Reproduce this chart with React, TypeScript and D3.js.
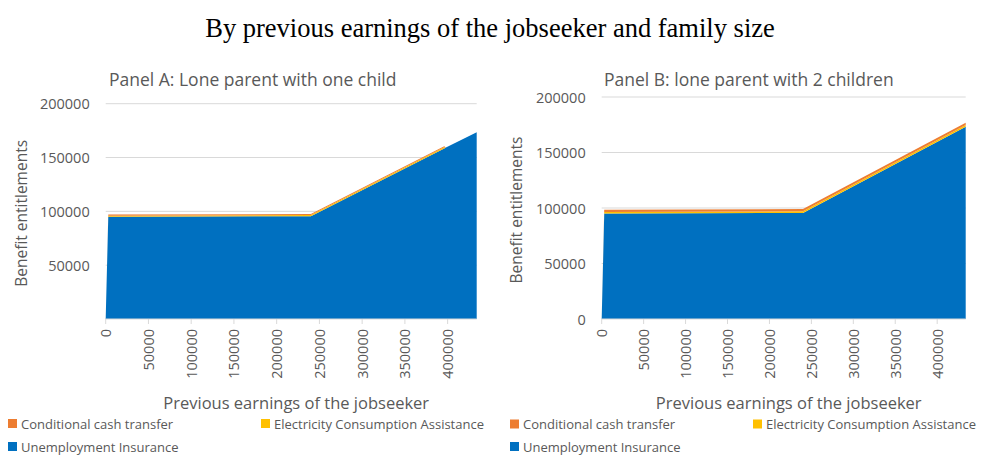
import React from "react";
import * as d3 from "d3";

const seriesNames = ["Unemployment Insurance", "Electricity Consumption Assistance", "Conditional cash transfer"];
const seriesColors = ["#0070C0", "#FFC000", "#ED7D31"];

const earningsA = [0, 3000, 240000, 396000, 398000, 434000];
const uiA = [0, 95000, 95500, 158500, 159200, 173500];
const ecaA = [0, 1000, 1000, 1000, 0, 0];
const cctA = [0, 1000, 1000, 1000, 0, 0];

const earningsB = [0, 3000, 240000, 434000];
const uiB = [0, 95000, 95500, 173300];
const ecaB = [1000, 1500, 1500, 1500];
const cctB = [0, 2000, 2000, 2000];

const xTicks = [0, 50000, 100000, 150000, 200000, 250000, 300000, 350000, 400000];
const yTicksA = [50000, 100000, 150000, 200000];
const yTicksB = [0, 50000, 100000, 150000, 200000];

const FONT = "'Open Sans', 'Noto Sans', sans-serif";
const GRAY = "#595959";

type PanelProps = {
  title: string;
  earnings: number[];
  ui: number[];
  eca: number[];
  cct: number[];
  yTicks: number[];
  left: number;
  right: number;
  top: number;
  bottom: number;
  ox: number;
};

function Panel(p: PanelProps) {
  const x = d3.scaleLinear().domain([0, 434000]).range([p.left, p.right]);
  const y = d3.scaleLinear().domain([0, 200000]).range([p.bottom, p.top]);
  const rows = p.earnings.map((e, i) => ({ e, ui: p.ui[i], eca: p.eca[i], cct: p.cct[i] }));
  const stack = d3.stack<any>().keys(["ui", "eca", "cct"])(rows);
  const area = d3
    .area<any>()
    .x((d) => x(d.data.e))
    .y0((d) => y(d[0]))
    .y1((d) => y(d[1]));
  const gridTicks = [50000, 100000, 150000, 200000];
  return (
    <g>
      <text x={p.ox + 109} y={79} dominantBaseline="central" fontFamily={FONT} fontSize={17.5} fill={GRAY}>
        {p.title}
      </text>
      {gridTicks.map((t) => (
        <line key={t} x1={p.left} x2={p.right} y1={y(t)} y2={y(t)} stroke="#d9d9d9" strokeWidth={1} />
      ))}
      {stack.map((s, i) => (
        <path key={i} d={area(s) || ""} fill={seriesColors[i]} />
      ))}
      <line x1={p.left} x2={p.right} y1={p.bottom} y2={p.bottom} stroke="#d9d9d9" strokeWidth={1} />
      {xTicks.map((t) => (
        <g key={t}>
          <line x1={x(t)} x2={x(t)} y1={p.bottom} y2={p.bottom + 5} stroke="#d9d9d9" />
          <text
            transform={`translate(${x(t)},${p.bottom + 10}) rotate(-90)`}
            textAnchor="end"
            dominantBaseline="central"
            fontFamily={FONT}
            fontSize={14.5}
            fill={GRAY}
          >
            {t}
          </text>
        </g>
      ))}
      {p.yTicks.map((t) => (
        <text
          key={t}
          x={p.left - 16}
          y={y(t)}
          textAnchor="end"
          dominantBaseline="central"
          fontFamily={FONT}
          fontSize={14.5}
          fill={GRAY}
        >
          {t}
        </text>
      ))}
      <text
        transform={`translate(${p.ox + 21},${(p.top + p.bottom) / 2 + 2}) rotate(-90)`}
        textAnchor="middle"
        dominantBaseline="central"
        fontFamily={FONT}
        fontSize={15.5}
        fill={GRAY}
      >
        Benefit entitlements
      </text>
      <text
        x={(p.left + p.right) / 2 + 5}
        y={402}
        textAnchor="middle"
        dominantBaseline="central"
        fontFamily={FONT}
        fontSize={16.5}
        fill={GRAY}
      >
        Previous earnings of the jobseeker
      </text>
    </g>
  );
}

function Legend({ ox, items }: { ox: number; items: { x: number; y: number; idx: number }[] }) {
  return (
    <g>
      {items.map((it) => (
        <g key={it.idx}>
          <rect x={ox + it.x} y={it.y - 4.5} width={9} height={9} fill={seriesColors[it.idx]} />
          <text
            x={ox + it.x + 13}
            y={it.y}
            dominantBaseline="central"
            fontFamily={FONT}
            fontSize={13}
            fill={GRAY}
          >
            {seriesNames[it.idx]}
          </text>
        </g>
      ))}
    </g>
  );
}

export default function App() {
  return (
    <svg width={981} height={455} style={{ position: "absolute", left: 0, top: 0, background: "#fff" }}>
      <rect x={0} y={0} width={981} height={455} fill="#fff" />
      <text
        x={490}
        y={28}
        textAnchor="middle"
        dominantBaseline="central"
        fontFamily="'Liberation Serif', 'Times New Roman', serif"
        fontSize={26.5}
        fill="#000"
      >
        By previous earnings of the jobseeker and family size
      </text>
      <Panel
        title="Panel A: Lone parent with one child"
        earnings={earningsA}
        ui={uiA}
        eca={ecaA}
        cct={cctA}
        yTicks={yTicksA}
        left={105.7}
        right={476.7}
        top={103.7}
        bottom={319}
        ox={0}
      />
      <Panel
        title="Panel B: lone parent with 2 children"
        earnings={earningsB}
        ui={uiB}
        eca={ecaB}
        cct={cctB}
        yTicks={yTicksB}
        left={601.7}
        right={965.7}
        top={97}
        bottom={319}
        ox={495}
      />
      <Legend
        ox={0}
        items={[
          { x: 8, y: 423.5, idx: 2 },
          { x: 261, y: 423.5, idx: 1 },
          { x: 8, y: 446.5, idx: 0 },
        ]}
      />
      <Legend
        ox={495}
        items={[
          { x: 15, y: 424, idx: 2 },
          { x: 258, y: 424, idx: 1 },
          { x: 15, y: 446.5, idx: 0 },
        ]}
      />
    </svg>
  );
}
